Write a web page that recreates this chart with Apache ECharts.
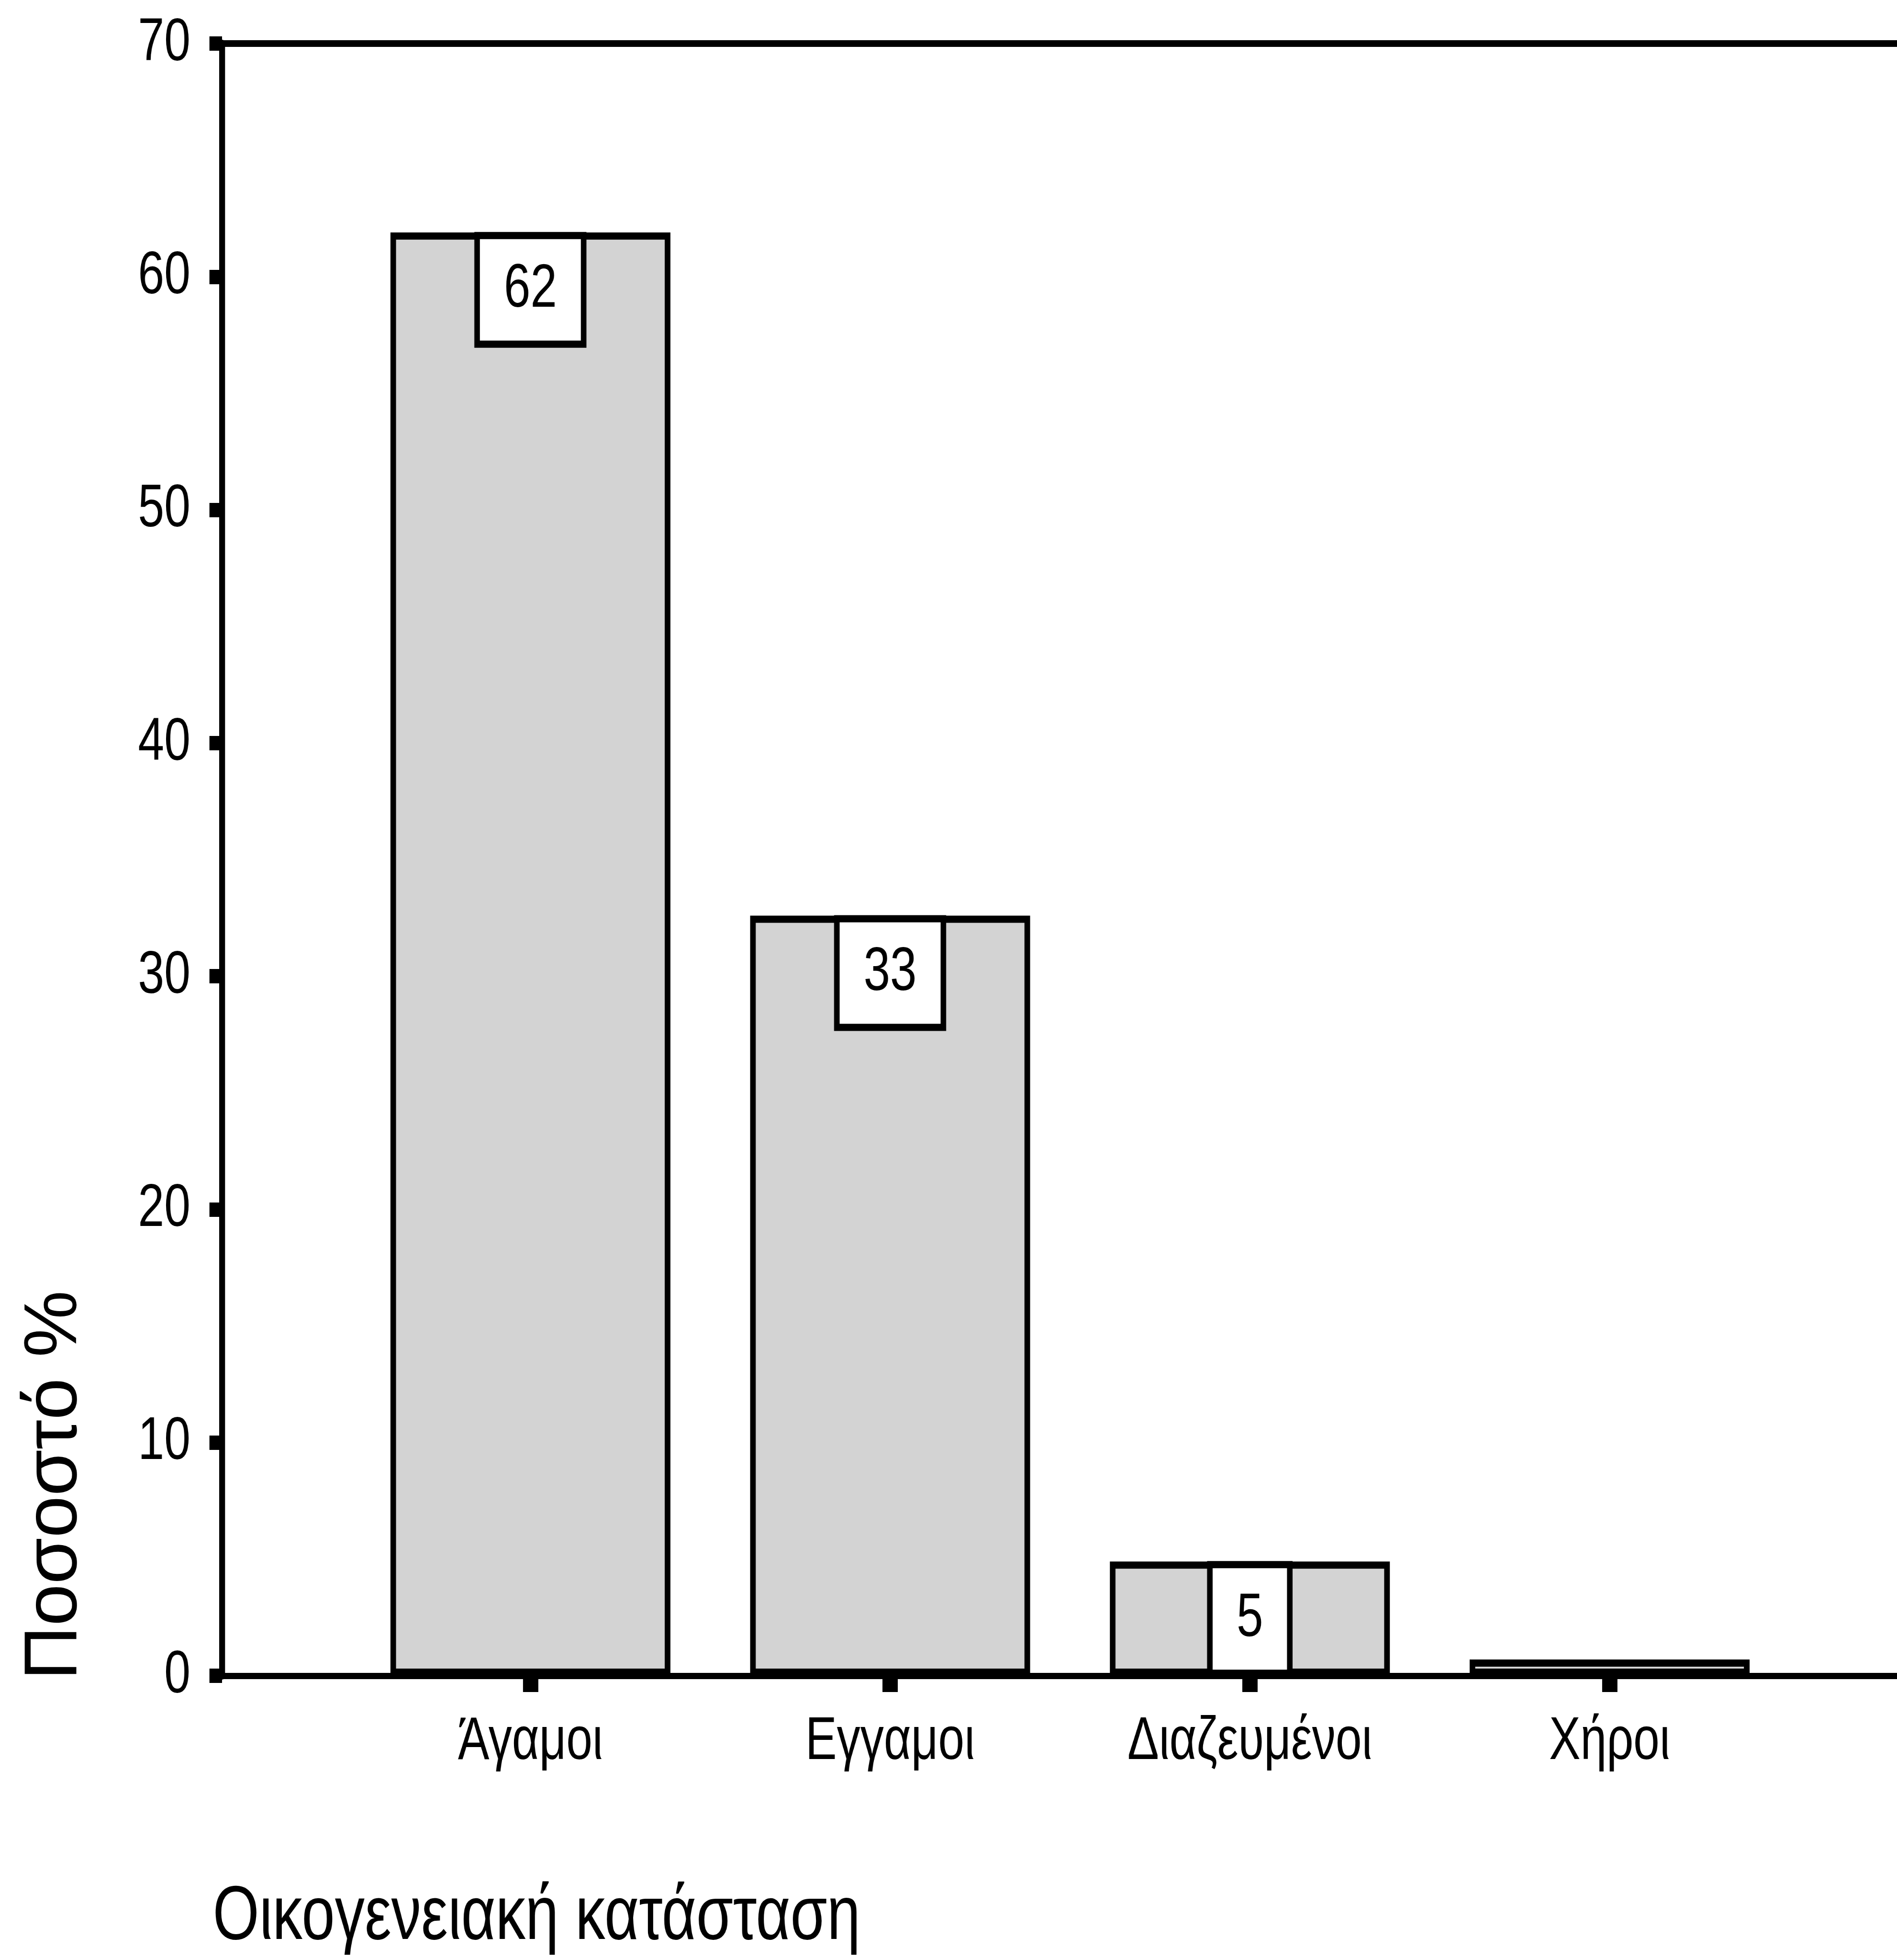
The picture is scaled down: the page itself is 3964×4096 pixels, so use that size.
<!DOCTYPE html>
<html>
<head>
<meta charset="utf-8">
<script src="https://cdn.jsdelivr.net/npm/echarts@6/dist/echarts.min.js"></script>
<style>
html,body{margin:0;padding:0;background:#fff;overflow:hidden;width:3964px;height:4096px;}
#chart{width:5082px;height:4096px;transform:scaleX(0.78);transform-origin:0 0;}
</style>
</head>
<body>
<div id="chart"></div>
<script>
const categories = ['Άγαμοι', 'Εγγαμοι', 'Διαζευμένοι', 'Χήροι'];
const percentValues = [61.9, 32.6, 4.9, 0.7];
const valueLabels = ['62', '33', '5', ''];
const yTickValues = [0, 10, 20, 30, 40, 50, 60, 70];
const yAxisTitle = 'Ποσοστό %';
const xAxisTitle = 'Οικογενειακή κατάσταση';

// the chart is laid out in a horizontally stretched space and squeezed by CSS
// so that Liberation Sans reads like the condensed face of the original
const SQUEEZE = 0.78;
const FONT = "'Liberation Sans', Arial, sans-serif";

const chart = echarts.init(document.getElementById('chart'), null, {renderer: 'canvas'});

const barData = percentValues.map((v, i) => ({
  value: [i, v],
  label: { show: valueLabels[i] !== '' }
}));

const option = {
  animation: false,
  backgroundColor: '#ffffff',
  grid: { left: 595, right: 0, top: 91, bottom: 594, containLabel: false },
  title: {
    text: xAxisTitle,
    left: 570,
    top: 3928,
    padding: 0,
    textStyle: { fontFamily: FONT, fontSize: 160, fontWeight: 'normal', color: '#000' }
  },
  xAxis: [{
    type: 'value',
    min: -0.857,
    max: 3.799,
    position: 'bottom',
    splitLine: { show: false },
    axisLine: { show: true, onZero: false, lineStyle: { color: '#000', width: 13 } },
    axisTick: { show: true, customValues: [0, 1, 2, 3], length: 34, lineStyle: { color: '#000', width: 41 } },
    axisLabel: {
      show: true,
      customValues: [0, 1, 2, 3],
      formatter: v => categories[Math.round(v)],
      margin: 76,
      fontFamily: FONT,
      fontSize: 126,
      color: '#000'
    }
  }, {
    type: 'value',
    min: -0.857,
    max: 3.799,
    position: 'top',
    splitLine: { show: false },
    axisLine: { show: true, onZero: false, lineStyle: { color: '#000', width: 14 } },
    axisTick: { show: false },
    axisLabel: { show: false }
  }],
  yAxis: {
    type: 'value',
    min: 0,
    max: 70,
    interval: 10,
    splitLine: { show: false },
    axisLine: { show: true, onZero: false, lineStyle: { color: '#000', width: 16 } },
    axisTick: { show: true, length: 34, lineStyle: { color: '#000', width: 30 } },
    axisLabel: {
      margin: 85,
      fontFamily: FONT,
      fontSize: 126,
      color: '#000',
      formatter: v => (yTickValues.indexOf(v) >= 0 ? String(v) : '')
    }
  },
  graphic: [{
    type: 'text',
    x: 148,
    y: 3104,
    rotation: Math.PI / 2,
    scaleY: 1 / SQUEEZE,
    style: {
      text: yAxisTitle,
      font: "157px " + FONT,
      fill: '#000',
      textAlign: 'center',
      textVerticalAlign: 'middle'
    }
  }],
  series: [{
    type: 'bar',
    xAxisIndex: 0,
    yAxisIndex: 0,
    barWidth: 750,
    data: barData,
    itemStyle: { color: '#d3d3d3', borderColor: '#000', borderWidth: 15 },
    label: {
      position: 'insideTop',
      distance: 14,
      formatter: p => valueLabels[p.dataIndex],
      fontFamily: FONT,
      fontSize: 128,
      lineHeight: 128,
      color: '#000',
      backgroundColor: '#fff',
      borderColor: '#000',
      borderWidth: 15,
      padding: [42, 64]
    }
  }]
};
chart.setOption(option);
</script>
</body>
</html>
